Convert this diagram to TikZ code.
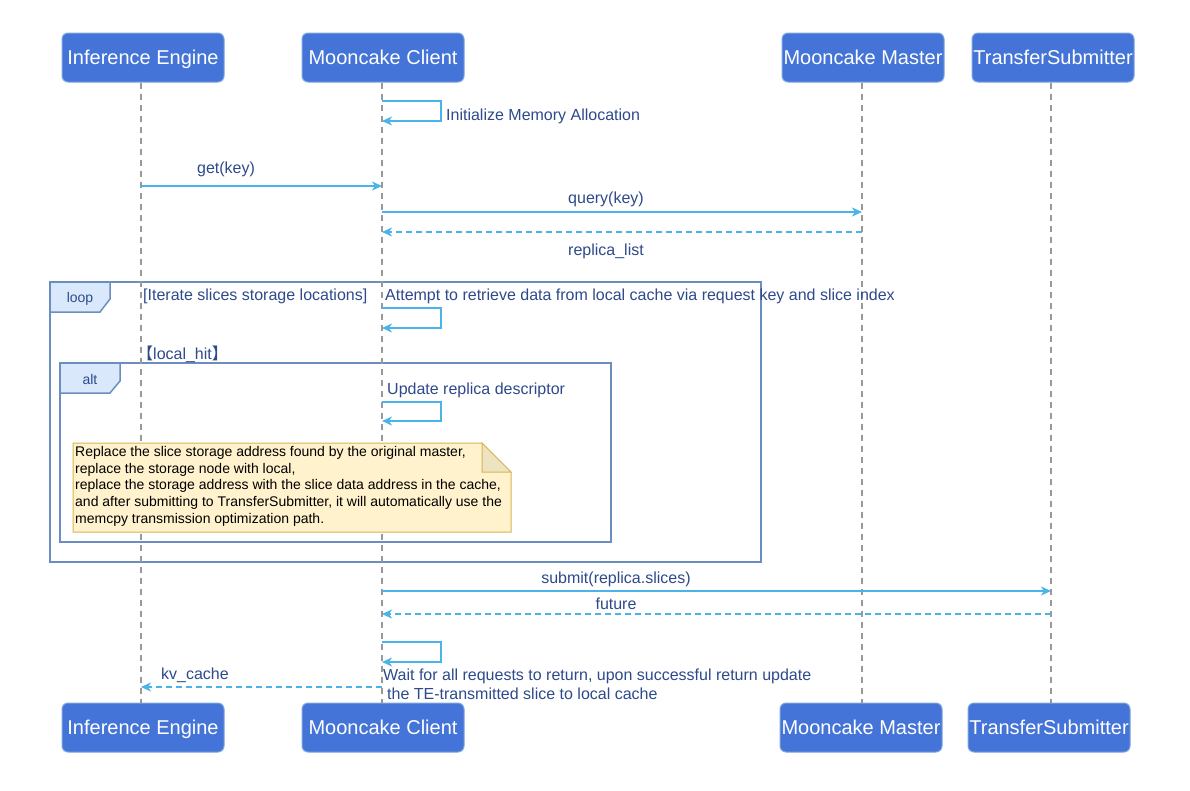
\documentclass[tikz,border=0pt]{standalone}
\usepackage{fontspec}
\setmainfont{Liberation Sans}
\newfontfamily\cjk{Noto Sans CJK SC}
\usetikzlibrary{arrows.meta}
\definecolor{hdrfill}{HTML}{4474D7}
\definecolor{hdrline}{HTML}{7EA6E0}
\definecolor{lbltext}{HTML}{2E4A8B}
\definecolor{msgcol}{HTML}{4AB3E8}
\definecolor{framecol}{HTML}{6C8EBF}
\definecolor{tabfill}{HTML}{DAE8FC}
\definecolor{notefill}{HTML}{FFF2CC}
\definecolor{noteline}{HTML}{D6B656}
\definecolor{notefold}{HTML}{EEE3C0}
\definecolor{lifecol}{HTML}{999999}
\tikzset{
  hdr/.style={draw=hdrline, line width=1pt, fill=hdrfill, rounded corners=6pt,
    minimum width=162pt, minimum height=49pt, inner sep=0pt, text=white,
    font=\fontsize{20}{24}\selectfont, text height=14.5pt, text depth=0.5pt},
  lbl/.style={text=lbltext, inner sep=0pt, font=\fontsize{16}{19}\selectfont,
    text height=12pt, text depth=0.4pt},
  tablbl/.style={text=lbltext, inner sep=0pt, font=\fontsize{14}{17}\selectfont,
    text height=10.5pt, text depth=0.4pt},
  life/.style={draw=lifecol, line width=1.6pt, dash pattern=on 6pt off 5pt},
  msg/.style={draw=msgcol, line width=1.6pt, -{Stealth[length=10pt,width=9pt,inset=3pt]}},
  ret/.style={msg, dash pattern=on 6pt off 4pt},
  frame/.style={draw=framecol, line width=1.8pt},
  tab/.style={draw=framecol, line width=1.5pt, fill=tabfill},
}
\begin{document}
\begin{tikzpicture}[x=1pt,y=-1pt]
\fill[white] (0,0) rectangle (1190,790);
\useasboundingbox (0,0) rectangle (1190,790);

% frames (behind lifelines)
\draw[frame] (50,282) rectangle (761,562);
\draw[tab] (50,282) -- (110,282) -- (110,299) -- (100,312) -- (50,312) -- cycle;
\node[tablbl] (looplbl) at (80,297) {loop};
\draw[frame] (60,363) rectangle (611,542);
\draw[tab] (60,363) -- (120,363) -- (120,381) -- (110,393) -- (60,393) -- cycle;
\node[tablbl] (altlbl) at (90,379) {alt};

% header boxes
\node[hdr] (ie)  at (143,57.5)  {Inference Engine};
\node[hdr] (mc)  at (383,57.5)  {Mooncake Client};
\node[hdr] (mm)  at (863,57.5)  {Mooncake Master};
\node[hdr] (ts)  at (1053,57.5) {TransferSubmitter};
\node[hdr] (ieb) at (143,727.5) {Inference Engine};
\node[hdr] (mcb) at (383,727.5) {Mooncake Client};
\node[hdr] (mmb) at (861,727.5) {Mooncake Master};
\node[hdr] (tsb) at (1049,727.5) {TransferSubmitter};

% lifelines
\coordinate (lie) at (141,0);
\coordinate (lmc) at (382,0);
\coordinate (lmm) at (862,0);
\coordinate (lts) at (1051,0);
\draw[life] (lie |- ie.south) -- (lie |- ieb.north);
\draw[life] (lmc |- mc.south) -- (lmc |- mcb.north);
\draw[life] (lmm |- mm.south) -- (lmm |- mmb.north);
\draw[life] (lts |- ts.south) -- (lts |- tsb.north);

% note (drawn over alt frame)
\draw[draw=noteline, line width=1pt, fill=notefill]
  (73,443) -- (482,443) -- (511,472) -- (511,532) -- (73,532) -- cycle;
\draw[draw=noteline, line width=1pt, fill=notefold]
  (482,443) -- (482,472) -- (511,472) -- cycle;
\node[anchor=north west, inner sep=0pt, align=left, text=black,
  font=\fontsize{14}{16.8}\selectfont] (note) at (75,446)
  {Replace the slice storage address found by the original master,\\
   replace the storage node with local,\\
   replace the storage address with the slice data address in the cache,\\
   and after submitting to TransferSubmitter, it will automatically use the\\
   memcpy transmission optimization path.};

% self loop 1
\draw[msg] (lmc |- 0,101) -- ++(59,0) -- ++(0,20) -- ++(-59,0);
\node[lbl, anchor=west] (init) at (446,115) {Initialize Memory Allocation};

% get(key)
\draw[msg] (lie |- 0,186) -- (lmc |- 0,186);
\node[lbl] (getk) at (226,168) {get(key)};

% query(key)
\draw[msg] (lmc |- 0,212) -- (lmm |- 0,212);
\node[lbl] (qk) at (606,198) {query(key)};

% replica_list
\draw[ret] (lmm |- 0,232) -- (lmc |- 0,232);
\node[lbl] (rl) at (606,250) {replica\_list};

% loop contents
\node[lbl, anchor=west] (guard) at (143,295) {[Iterate slices storage locations]};
\node[lbl, anchor=west] (attempt) at (385,295) {Attempt to retrieve data from local cache via request key and slice index};
\draw[msg] (lmc |- 0,308) -- ++(59,0) -- ++(0,20) -- ++(-59,0);

\node[lbl, anchor=west] (hit) at (137,354) {{\cjk 【}local\_hit{\cjk 】}};

\node[lbl, anchor=west] (upd) at (387,389) {Update replica descriptor};
\draw[msg] (lmc |- 0,402) -- ++(59,0) -- ++(0,19) -- ++(-59,0);

% submit
\draw[msg] (lmc |- 0,591) -- (lts |- 0,591);
\node[lbl] (sub) at (616,578) {submit(replica.slices)};
\draw[ret] (lts |- 0,614) -- (lmc |- 0,614);
\node[lbl] (fut) at (616,604) {future};

% self loop 4
\draw[msg] (lmc |- 0,642) -- ++(59,0) -- ++(0,20) -- ++(-59,0);
\node[lbl, anchor=west] (wait1) at (383,675) {Wait for all requests to return, upon successful return update};
\node[lbl, anchor=west] (wait2) at (387,694) {the TE-transmitted slice to local cache};

% kv_cache
\draw[ret] (lmc |- 0,687) -- (lie |- 0,687);
\node[lbl] (kv) at (195,674) {kv\_cache};
\end{tikzpicture}
\end{document}
